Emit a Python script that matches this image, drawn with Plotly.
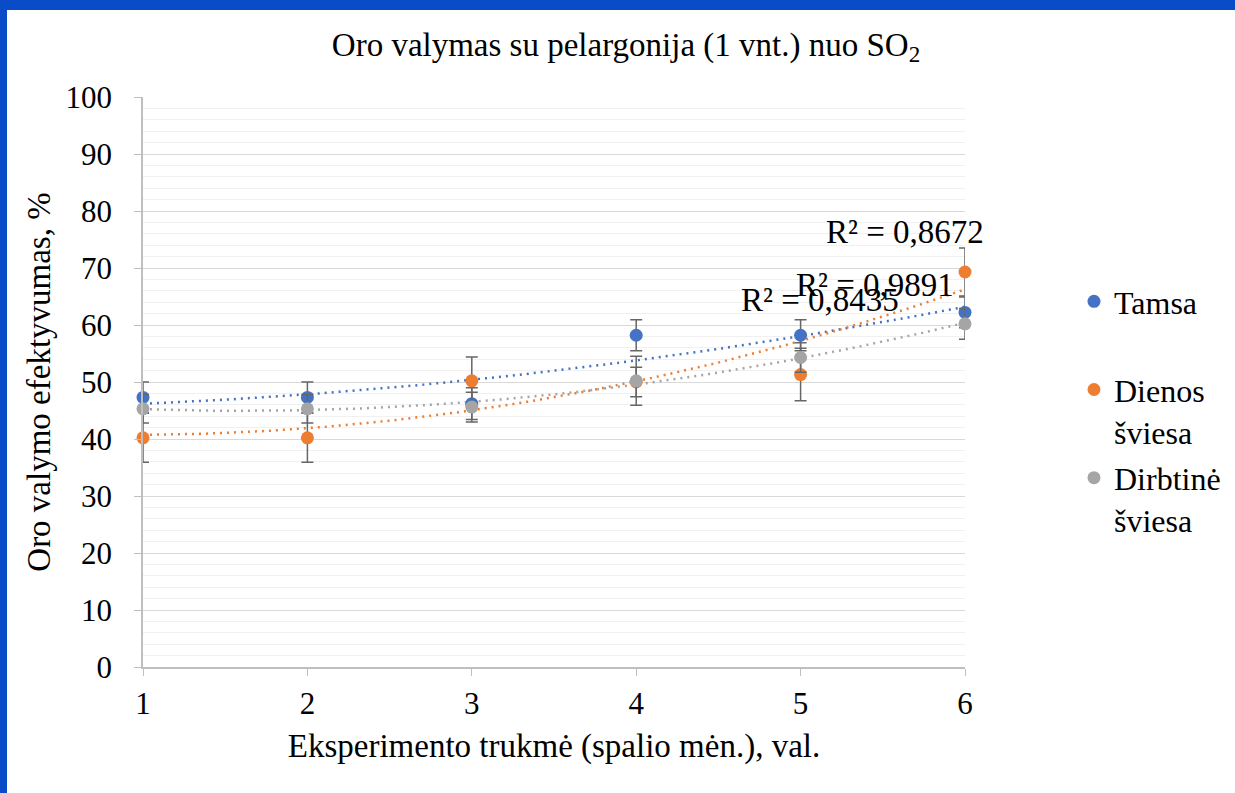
import numpy as np
import plotly.graph_objects as go

x_vals = [1, 2, 3, 4, 5, 6]
series_names = ["Tamsa", "Dienos<br>šviesa", "Dirbtinė<br>šviesa"]
tamsa = [47.3, 47.3, 46.2, 58.2, 58.2, 62.2]
dienos = [40.2, 40.2, 50.2, 50.0, 51.3, 69.3]
dirbtine = [45.3, 45.3, 45.6, 50.2, 54.3, 60.2]
tamsa_err = [2.7, 2.7, 2.8, 2.7, 2.7, 2.7]
dienos_err = [4.3, 4.3, 4.2, 2.6, 4.6, 4.2]
dirbtine_err = [2.5, 2.5, 2.6, 4.3, 2.6, 2.7]
r2_labels = ["R² = 0,8435", "R² = 0,8672", "R² = 0,9891"]
y_ticks = [0, 10, 20, 30, 40, 50, 60, 70, 80, 90, 100]

colors = ["#4472C4", "#ED7D31", "#A5A5A5"]
FONT = "Liberation Serif"
FS_TICK = 31
FS_TEXT = 33
FS_LEG = 32

fig = go.Figure()
series = [tamsa, dienos, dirbtine]
errs = [tamsa_err, dienos_err, dirbtine_err]

# trendlines (polynomial, order 2)
xf = np.linspace(1, 6, 200)
for ys, c in zip(series, colors):
    coef = np.polyfit(x_vals, ys, 2)
    fig.add_trace(go.Scatter(x=xf, y=np.polyval(coef, xf), mode="lines",
                             line=dict(color=c, width=2.5, dash="2px,5px"),
                             showlegend=False, hoverinfo="skip"))

for i, (ys, er, c) in enumerate(zip(series, errs, colors)):
    name = series_names[i] if i > 0 else series_names[i] + "<br> "
    fig.add_trace(go.Scatter(x=x_vals, y=ys, mode="markers", name=name,
                             marker=dict(color=c, size=13),
                             error_y=dict(type="data", array=er, color="#666666",
                                          thickness=1.5, width=6),
                             cliponaxis=False, legendgroup=str(i)))

# R² labels
r2_pos = [(5.12, 64.4), (5.635, 76.3), (5.45, 67.0)]
for lab, (ax_, ay_) in zip(r2_labels, r2_pos):
    fig.add_annotation(x=ax_, y=ay_, text=lab, showarrow=False,
                       font=dict(family=FONT, size=FS_TEXT, color="#000000"))

W, H = 1235, 793
L, R, T, B = 143, 270, 97, 126
pw, ph = W - L - R, H - T - B
def px(xp):
    return (xp - L) / pw
def py(yp):
    return (H - B - yp) / ph

border = "#0A4BC7"
fig.add_shape(type="rect", xref="paper", yref="paper", x0=px(0), x1=px(W), y0=py(10), y1=py(0),
              fillcolor=border, line=dict(width=0), layer="above")
fig.add_shape(type="rect", xref="paper", yref="paper", x0=px(0), x1=px(7), y0=py(H), y1=py(0),
              fillcolor=border, line=dict(width=0), layer="above")

tick_font = dict(family=FONT, size=FS_TICK, color="#000000")

fig.update_layout(
    width=W, height=H,
    margin=dict(l=L, r=R, t=T, b=B, autoexpand=False),
    paper_bgcolor="white", plot_bgcolor="white",
    font=dict(family=FONT, size=FS_TICK, color="#000000"),
    title=dict(text="Oro valymas su pelargonija (1 vnt.) nuo SO<sub>2</sub>",
               x=626 / W, xref="container", xanchor="center", y=1 - 44 / H, yanchor="middle",
               font=dict(family=FONT, size=FS_TEXT, color="#000000")),
    showlegend=True,
    legend=dict(x=px(1074), xanchor="left", y=py(274), yanchor="top",
                valign="top", tracegroupgap=2, bgcolor="rgba(0,0,0,0)",
                font=dict(family=FONT, size=FS_LEG, color="#000000")),
    xaxis=dict(range=[1, 6], tickvals=x_vals, showgrid=False, zeroline=False,
               showline=True, linecolor="#BFBFBF", linewidth=1.5,
               ticks="outside", ticklen=7, tickcolor="#BFBFBF",
               ticklabelstandoff=1, tickfont=tick_font,
               title=dict(text="Eksperimento trukmė (spalio mėn.), val.", standoff=14,
                          font=dict(family=FONT, size=FS_TEXT, color="#000000"))),
    yaxis=dict(range=[0, 100], tickvals=y_ticks, showgrid=True, gridcolor="#D9D9D9",
               gridwidth=1.2, zeroline=False,
               showline=True, linecolor="#BFBFBF", linewidth=1.5,
               ticks="outside", ticklen=7, tickcolor="#BFBFBF",
               ticklabelstandoff=16, tickfont=tick_font,
               minor=dict(dtick=2, showgrid=True, gridcolor="#F0F0F0", gridwidth=1),
               title=dict(text="Oro valymo efektyvumas, %", standoff=5,
                          font=dict(family=FONT, size=FS_TEXT, color="#000000"))),
)

fig.write_html("out.html")
